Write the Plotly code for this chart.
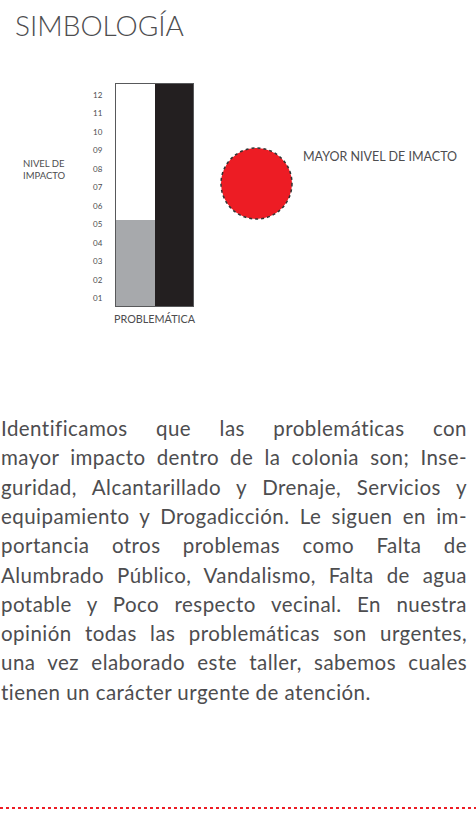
import json
import plotly.graph_objects as go

W, H = 476, 816

# ---- data ----
categories = ["Nivel de impacto", "Problemática"]
impact_values = [5.25, 12.6]
bar_colors = ["#a7a9ac", "#231f20"]
tick_values = list(range(1, 13))
tick_labels = ["01", "02", "03", "04", "05", "06", "07", "08", "09", "10", "11", "12"]

title_text = "SIMBOLOGÍA"
y_label = ["NIVEL DE", "IMPACTO"]
x_label = "PROBLEMÁTICA"
circle_label = "MAYOR NIVEL DE IMACTO"
paragraph_lines = [
    "Identificamos que las problemáticas con",
    "mayor impacto dentro de la colonia son; Inse-",
    "guridad, Alcantarillado y Drenaje, Servicios y",
    "equipamiento y Drogadicción. Le siguen en im-",
    "portancia otros problemas como Falta de",
    "Alumbrado Público, Vandalismo, Falta de agua",
    "potable y Poco respecto vecinal. En nuestra",
    "opinión todas las problemáticas son urgentes,",
    "una vez elaborado este taller, sabemos cuales",
    "tienen un carácter urgente de atención.",
]

TEXT = "#4d4d4f"
RED = "#ed1c24"
FONT = "Lato"


def px(x):
    return x / W


def py(y):
    return 1 - y / H


fig = go.Figure()
fig.add_trace(go.Bar(
    x=categories, y=impact_values,
    marker=dict(color=bar_colors, line=dict(width=0)),
    hoverinfo="skip", showlegend=False,
))

annotations = []
annotations.append(dict(
    text=title_text, x=px(13), y=py(25), xref="paper", yref="paper",
    xanchor="left", yanchor="middle", showarrow=False,
    font=dict(family=FONT, size=28, color=TEXT, weight=300),
))
annotations.append(dict(
    text="<br>".join(y_label), x=px(21), y=py(169), xref="paper", yref="paper",
    xanchor="left", yanchor="middle", align="left", showarrow=False,
    font=dict(family=FONT, size=9.5, color=TEXT, weight=400),
))
annotations.append(dict(
    text=x_label, x=px(155), y=py(319), xref="paper", yref="paper",
    xanchor="center", yanchor="middle", showarrow=False,
    font=dict(family=FONT, size=10.8, color=TEXT, weight=400),
))
annotations.append(dict(
    text=circle_label, x=px(301), y=py(156), xref="paper", yref="paper",
    xanchor="left", yanchor="middle", showarrow=False,
    font=dict(family=FONT, size=12.5, color=TEXT, weight=400),
))

LINE0, LINE_STEP = 428, 29.3
for i, line in enumerate(paragraph_lines):
    annotations.append(dict(
        text=line, x=px(-1), y=py(LINE0 + i * LINE_STEP), xref="paper", yref="paper",
        xanchor="left", yanchor="middle", align="left", showarrow=False,
        font=dict(family=FONT, size=20.5, color=TEXT, weight=400),
    ))

shapes = [
    dict(type="circle", xref="paper", yref="paper",
         x0=px(221), x1=px(292), y0=py(219), y1=py(148),
         fillcolor=RED, line=dict(color="#333333", width=1.5, dash="dot")),
    dict(type="line", xref="paper", yref="paper",
         x0=0, x1=1, y0=py(808), y1=py(808),
         line=dict(color=RED, width=2, dash="dot")),
]

fig.update_layout(
    width=W, height=H, autosize=False,
    margin=dict(l=0, r=0, t=0, b=0),
    paper_bgcolor="white", plot_bgcolor="white",
    bargap=0,
    annotations=annotations, shapes=shapes,
    xaxis=dict(domain=[px(116), px(193)], showticklabels=False, ticks="",
               showgrid=False, zeroline=False, fixedrange=True,
               showline=True, mirror=True, linecolor="#58595b", linewidth=1.2),
    yaxis=dict(domain=[py(306), py(84)], range=[0.6, 12.6],
               tickvals=tick_values, ticktext=tick_labels, ticks="",
               ticklabelstandoff=11,
               tickfont=dict(family=FONT, size=8, color=TEXT),
               showgrid=False, zeroline=False, fixedrange=True,
               showline=True, mirror=True, linecolor="#58595b", linewidth=1.2),
)

post = """
(function(){
  document.body.style.margin = '0';
  document.body.style.padding = '0';
  var ALL = %s;
  var JUST = ALL.slice(0, ALL.length - 1);
  var RIGHT = 467;
  var texts = document.querySelectorAll('g.annotation text.annotation-text');
  texts.forEach(function(t){
    var s = t.textContent;
    if (ALL.indexOf(s) < 0) return;
    t.style.letterSpacing = '0.45px';
    t.style.wordSpacing = '0px';
    if (JUST.indexOf(s) < 0) return;
    var box = t.getBoundingClientRect();
    var n = (s.match(/ /g) || []).length;
    if (!n) return;
    var extra = (RIGHT - box.right) / n;
    t.style.wordSpacing = extra + 'px';
  });
})();
""" % json.dumps(paragraph_lines)

fig.write_html("out.html", post_script=post, config={"displayModeBar": False})
